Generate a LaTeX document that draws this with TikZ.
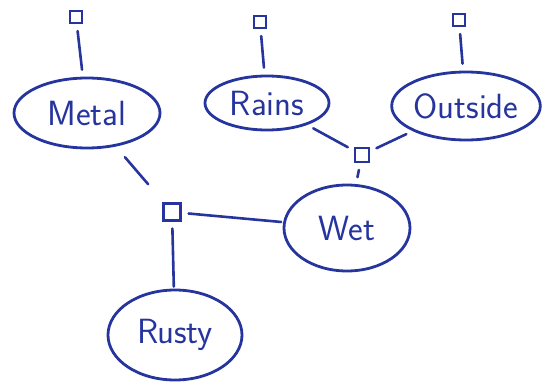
\documentclass[tikz,border=0pt]{standalone}
\usetikzlibrary{shapes.geometric}
\definecolor{ink}{RGB}{38,52,158}
\tikzset{
  var/.style={ellipse, draw=ink, line width=2.8pt, text=ink, inner sep=0pt,
    font=\sffamily\fontsize{35}{37}\selectfont},
  fac/.style={rectangle, draw=ink, line width=2.2pt, minimum size=12pt, inner sep=0pt},
  link/.style={draw=ink, line width=2.6pt, line cap=round, shorten <=7pt, shorten >=7pt}
}
\begin{document}
\begin{tikzpicture}[x=1pt, y=-1pt]
  \useasboundingbox (0,0) rectangle (544,385);
  % variables
  \node[var, minimum width=146pt, minimum height=70pt] (metal) at (87,113) {Metal};
  \node[var, minimum width=124pt, minimum height=54pt] (rains) at (267,103) {Rains};
  \node[var, minimum width=142pt, minimum height=68pt] (outside) at (466,106) {Outside};
  \node[var, minimum width=126pt, minimum height=86pt] (wet) at (347,228) {Wet};
  \node[var, minimum width=134pt, minimum height=90pt] (rusty) at (175,335) {Rusty};
  % factors
  \node[fac] (fmetal) at (76,17) {};
  \node[fac] (frains) at (260,22) {};
  \node[fac] (foutside) at (459,20) {};
  \node[fac, minimum size=14pt] (fwet) at (362,155) {};
  \node[fac, minimum size=17pt] (frusty) at (172,212) {};
  % priors
  \draw[link] (fmetal) -- (metal);
  \draw[link] (frains) -- (rains);
  \draw[link] (foutside) -- (outside);
  % Rains, Outside -> Wet
  \draw[link] (rains) -- (fwet);
  \draw[link] (outside) -- (fwet);
  \draw[link] (fwet) -- (wet);
  % Metal, Wet -> Rusty
  \draw[link, shorten <=14pt, shorten >=24pt] (metal) -- (frusty);
  \draw[link, shorten >=2pt] (frusty) -- (wet);
  \draw[link, shorten >=2pt] (frusty) -- (rusty);
\end{tikzpicture}
\end{document}
